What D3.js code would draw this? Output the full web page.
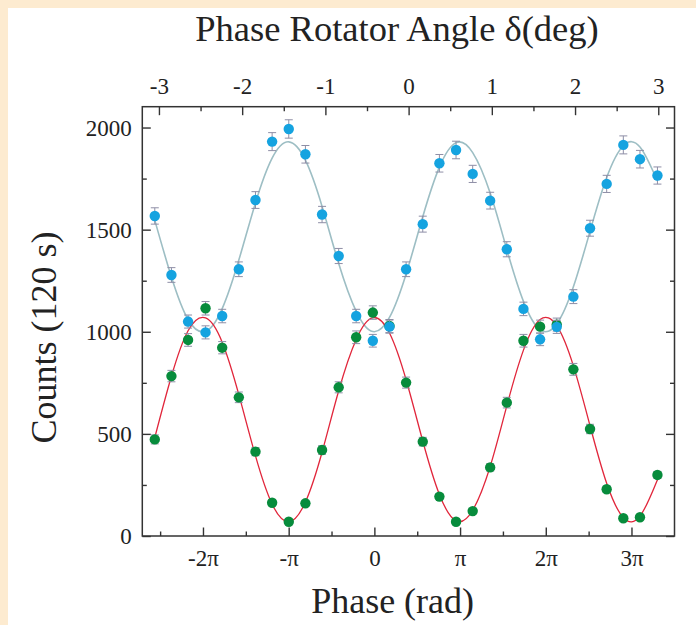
<!DOCTYPE html>
<html>
<head>
<meta charset="utf-8">
<script src="https://cdn.jsdelivr.net/npm/d3@7/dist/d3.min.js"></script>
<style>
  html, body { margin: 0; padding: 0; background: #fdebd0; }
  svg { display: block; }
  text { font-family: "Liberation Serif", "Times New Roman", serif; fill: #222; }
</style>
</head>
<body>
<svg id="chart" width="696" height="625"></svg>
<script>
// ---------- data ----------
// phase-rotator angle of each measurement (deg)
const delta = [-3.05, -2.85, -2.65, -2.44, -2.24, -2.04, -1.84, -1.64, -1.44, -1.24,
               -1.04, -0.84, -0.63, -0.43, -0.23, -0.03, 0.17, 0.37, 0.57, 0.77,
               0.98, 1.18, 1.38, 1.58, 1.78, 1.98, 2.18, 2.38, 2.58, 2.78, 2.99];
// blue detector counts
const blueCounts = [1567, 1278, 1050, 997, 1077, 1306, 1645, 1931, 1993, 1869,
                    1574, 1371, 1077, 956, 1025, 1306, 1527, 1825, 1890, 1773,
                    1642, 1404, 1112, 963, 1024, 1172, 1507, 1724, 1915, 1845, 1765];
const blueErr = [40, 36, 32, 32, 33, 36, 41, 44, 45, 43, 40, 37, 33, 31, 32, 36,
                 39, 43, 43, 42, 41, 37, 33, 31, 32, 34, 39, 42, 44, 43, 42];
// green detector counts
const greenCounts = [473, 783, 960, 1115, 922, 679, 413, 163, 70, 160,
                     421, 728, 973, 1094, 1028, 751, 462, 193, 70, 122,
                     336, 653, 956, 1025, 1035, 816, 524, 229, 87, 92, 299];
const greenErr = [22, 28, 31, 33, 30, 26, 20, 13, 8, 13, 21, 27, 31, 33, 32, 27,
                  21, 14, 8, 11, 18, 26, 31, 32, 32, 29, 23, 15, 9, 10, 17];
// fitted curves, read at the measurement angles
const blueFit = [1546, 1268, 1060, 1002, 1113, 1351, 1631, 1850, 1930, 1840,
                 1614, 1334, 1100, 1001, 1070, 1283, 1563, 1806, 1926, 1877,
                 1679, 1403, 1149, 1010, 1038, 1220, 1492, 1755, 1911, 1905, 1738];
const greenFit = [482, 782, 1005, 1068, 949, 692, 392, 156, 70, 166,
                  410, 711, 962, 1069, 994, 765, 465, 203, 74, 126,
                  340, 637, 910, 1060, 1030, 833, 540, 258, 90, 97, 276];

// axis ticks
const yTicks = [0, 500, 1000, 1500, 2000];
const yMinor = [250, 750, 1250, 1750];
const deltaTicks = [-3, -2, -1, 0, 1, 2, 3];
const deltaMinor = [-2.5, -1.5, -0.5, 0.5, 1.5, 2.5];
const phaseTicks = [-2, -1, 0, 1, 2, 3];           // in units of pi
const phaseTickLabels = ["-2\u03C0", "-\u03C0", "0", "\u03C0", "2\u03C0", "3\u03C0"];
const phaseMinor = [-2.5, -1.5, -0.5, 0.5, 1.5, 2.5];

// ---------- layout ----------
const svg = d3.select("#chart");
const L = 142.3, R = 674.5, T = 106.7, B = 536;

svg.append("rect").attr("x", 8).attr("y", 8).attr("width", 696 - 8).attr("height", 625 - 8)
   .attr("fill", "#ffffff");

const xDelta = d3.scaleLinear().domain([-3.2, 3.195]).range([L, R]);
const xPhase = d3.scaleLinear().domain([-2.708, 3.502]).range([L, R]);
const y = d3.scaleLinear().domain([0, 2102]).range([B, T]);

const axisColor = "#333";
const major = 8.5, minor = 4.5;
const plain = d => String(d);   // ASCII hyphen for negatives, as in the reference

function styleAxis(g) {
  g.select(".domain").remove();
  g.selectAll(".tick line").attr("stroke", axisColor).attr("stroke-width", 1.4);
  g.selectAll(".tick text").style("font-size", "23px").attr("fill", "#222");
}

// bottom axis (phase)
svg.append("g").attr("transform", `translate(0,${B})`)
  .call(d3.axisBottom(xPhase).tickValues(phaseTicks).tickSize(-major)
        .tickFormat((d, i) => phaseTickLabels[i]))
  .call(styleAxis)
  .call(g => g.selectAll(".tick text").attr("y", 30).attr("dy", 0));
svg.append("g").attr("transform", `translate(0,${B})`)
  .call(d3.axisBottom(xPhase).tickValues(phaseMinor).tickSize(-minor).tickFormat(""))
  .call(styleAxis);

// top axis (delta)
svg.append("g").attr("transform", `translate(0,${T})`)
  .call(d3.axisTop(xDelta).tickValues(deltaTicks).tickSize(-major).tickFormat(plain))
  .call(styleAxis)
  .call(g => g.selectAll(".tick text").attr("y", -12.4).attr("dy", 0));
svg.append("g").attr("transform", `translate(0,${T})`)
  .call(d3.axisTop(xDelta).tickValues(deltaMinor).tickSize(-minor).tickFormat(""))
  .call(styleAxis);

// left axis
svg.append("g").attr("transform", `translate(${L},0)`)
  .call(d3.axisLeft(y).tickValues(yTicks).tickSize(-major).tickFormat(plain))
  .call(styleAxis)
  .call(g => g.selectAll(".tick text").attr("x", -10.6).attr("dy", "0.34em"));
svg.append("g").attr("transform", `translate(${L},0)`)
  .call(d3.axisLeft(y).tickValues(yMinor).tickSize(-minor).tickFormat(""))
  .call(styleAxis);

// right axis
svg.append("g").attr("transform", `translate(${R},0)`)
  .call(d3.axisRight(y).tickValues(yTicks).tickSize(-major).tickFormat(""))
  .call(styleAxis);
svg.append("g").attr("transform", `translate(${R},0)`)
  .call(d3.axisRight(y).tickValues(yMinor).tickSize(-minor).tickFormat(""))
  .call(styleAxis);

// frame
svg.append("rect").attr("x", L).attr("y", T).attr("width", R - L).attr("height", B - T)
   .attr("fill", "none").attr("stroke", axisColor).attr("stroke-width", 1.5);

// ---------- fit curves ----------
const line = d3.line().x(d => xDelta(d[0])).y(d => y(d[1])).curve(d3.curveNatural);
svg.append("path").datum(delta.map((d, i) => [d, blueFit[i]]))
   .attr("d", line).attr("fill", "none").attr("stroke", "#9dbec4").attr("stroke-width", 1.6);
svg.append("path").datum(delta.map((d, i) => [d, greenFit[i]]))
   .attr("d", line).attr("fill", "none").attr("stroke", "#e1263b").attr("stroke-width", 1.3);

// ---------- points with error bars ----------
function drawSeries(counts, errs, color) {
  const data = delta.map((d, i) => ({ x: d, v: counts[i], e: errs[i] }));
  const g = svg.append("g");
  const eb = g.selectAll("g.eb").data(data).join("g").attr("class", "eb")
    .attr("stroke", "#8e8ea6").attr("stroke-width", 1);
  eb.append("line").attr("x1", d => xDelta(d.x)).attr("x2", d => xDelta(d.x))
    .attr("y1", d => y(d.v - d.e)).attr("y2", d => y(d.v + d.e));
  eb.append("line").attr("x1", d => xDelta(d.x) - 4).attr("x2", d => xDelta(d.x) + 4)
    .attr("y1", d => y(d.v + d.e)).attr("y2", d => y(d.v + d.e));
  eb.append("line").attr("x1", d => xDelta(d.x) - 4).attr("x2", d => xDelta(d.x) + 4)
    .attr("y1", d => y(d.v - d.e)).attr("y2", d => y(d.v - d.e));
  g.selectAll("circle").data(data).join("circle")
    .attr("cx", d => xDelta(d.x)).attr("cy", d => y(d.v)).attr("r", 5.2)
    .attr("fill", color);
}
drawSeries(greenCounts, greenErr, "#078c3c");
drawSeries(blueCounts, blueErr, "#15a3e0");

// ---------- titles ----------
svg.append("text").attr("x", 397).attr("y", 41).attr("text-anchor", "middle")
   .style("font-size", "36.5px").text("Phase Rotator Angle \u03B4(deg)");
svg.append("text").attr("x", 392.6).attr("y", 613).attr("text-anchor", "middle")
   .style("font-size", "36px").text("Phase (rad)");
svg.append("text").attr("transform", "translate(56,337.5) rotate(-90)")
   .attr("text-anchor", "middle").style("font-size", "36px").text("Counts (120 s)");
</script>
</body>
</html>
